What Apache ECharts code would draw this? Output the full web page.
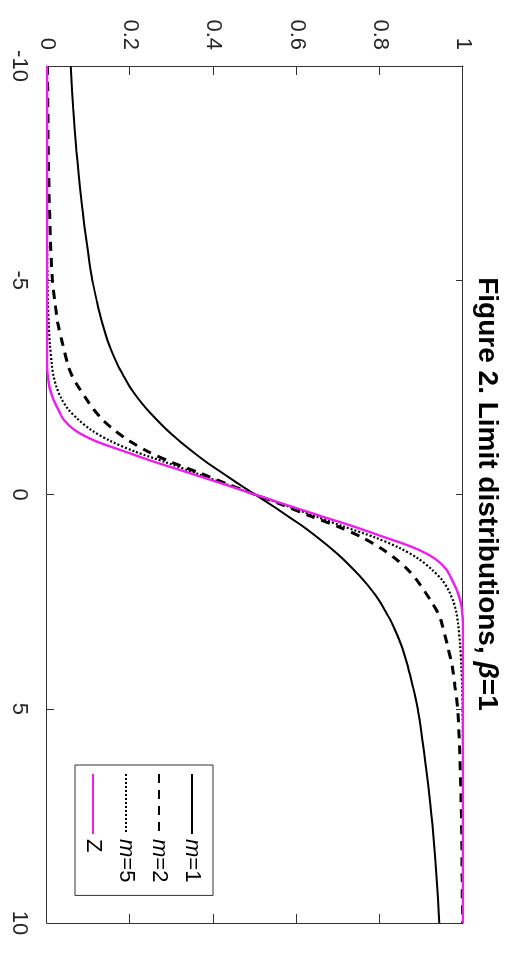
<!DOCTYPE html>
<html>
<head>
<meta charset="utf-8">
<script src="https://cdn.jsdelivr.net/npm/echarts@6/dist/echarts.min.js"></script>
<style>
  html, body { margin: 0; padding: 0; background: #fff; overflow: hidden; width: 505px; height: 957px; }
  #wrap { position: absolute; left: 0; top: 0; width: 957px; height: 505px;
          transform-origin: 0 0; transform: translate(505px, 0) rotate(90deg); background: #fff; }
</style>
</head>
<body>
<div id="wrap"></div>
<script>
// ---- data ----
const xValues = [-10,-9,-8,-7,-6,-5,-4.5,-4,-3.5,-3,-2.75,-2.5,-2.25,-2,-1.75,-1.5,-1.25,-1,-0.75,-0.5,-0.25,
                 0,0.25,0.5,0.75,1,1.25,1.5,1.75,2,2.25,2.5,2.75,3,3.5,4,4.5,5,6,7,8,9,10];
const m1Values = [0.057,0.063,0.071,0.081,0.094,0.109,0.120,0.133,0.149,0.171,0.185,0.200,0.218,0.239,0.263,0.289,0.318,0.350,0.384,0.422,0.460,
                  0.500,0.540,0.578,0.616,0.650,0.682,0.711,0.737,0.761,0.782,0.800,0.815,0.829,0.851,0.867,0.880,0.891,0.906,0.919,0.929,0.937,0.943];
const m2Values = [0.001,0.002,0.003,0.005,0.008,0.013,0.019,0.026,0.038,0.051,0.061,0.076,0.093,0.111,0.133,0.162,0.198,0.243,0.300,0.368,0.432,
                  0.500,0.568,0.632,0.700,0.757,0.802,0.838,0.867,0.889,0.907,0.924,0.939,0.949,0.962,0.974,0.981,0.987,0.992,0.995,0.997,0.998,0.999];
const m5Values = [0,0,0,0,0,0.001,0.002,0.004,0.007,0.012,0.016,0.023,0.034,0.050,0.075,0.107,0.152,0.212,0.286,0.357,0.428,
                  0.500,0.572,0.643,0.714,0.788,0.848,0.893,0.925,0.950,0.966,0.977,0.984,0.988,0.993,0.996,0.998,0.999,1,1,1,1,1];
const zValues  = [0,0,0,0,0,0,0,0,0,0,0.002,0.006,0.014,0.026,0.040,0.067,0.116,0.188,0.262,0.343,0.422,
                  0.500,0.578,0.657,0.738,0.812,0.884,0.933,0.960,0.974,0.986,0.994,0.998,1,1,1,1,1,1,1,1,1,1];
const seriesNames = ['m=1', 'm=2', 'm=5', 'Z'];
const xTicks = [-10, -5, 0, 5, 10];
const yTicks = ['0', '0.2', '0.4', '0.6', '0.8', '1'];

// ---- chart ----
const FONT = "'Liberation Sans', Arial, Helvetica, sans-serif";
const AX = '#333333';
const pairs = vals => xValues.map((x, i) => [x, vals[i]]);
const xMin = xTicks[0], xMax = xTicks[xTicks.length - 1], xInt = xTicks[1] - xTicks[0];
const yMin = parseFloat(yTicks[0]), yMax = parseFloat(yTicks[yTicks.length - 1]);
const yInt = parseFloat(yTicks[1]) - parseFloat(yTicks[0]);

const chart = echarts.init(document.getElementById('wrap'), null, { width: 957, height: 505, renderer: 'canvas' });

function xAxisDef(pos, labels) {
  return {
    type: 'value', position: pos, min: xMin, max: xMax, interval: xInt,
    axisLine: { show: true, onZero: false, lineStyle: { color: AX, width: 1 } },
    axisTick: { show: true, inside: true, length: 7, lineStyle: { color: AX, width: 1 } },
    axisLabel: { show: labels, margin: 17, fontSize: 22, fontFamily: FONT, color: '#262626',
                 showMinLabel: true, showMaxLabel: true },
    splitLine: { show: false }
  };
}
function yAxisDef(pos, labels) {
  return {
    type: 'value', position: pos, min: yMin, max: yMax, interval: yInt,
    axisLine: { show: true, onZero: false, lineStyle: { color: AX, width: 1 } },
    axisTick: { show: true, inside: true, length: 9, lineStyle: { color: AX, width: 1 } },
    axisLabel: { show: labels, margin: 16, fontSize: 22, fontFamily: FONT, color: '#262626',
                 showMinLabel: true, showMaxLabel: true,
                 formatter: v => yTicks[Math.round((v - yMin) / yInt)] },
    splitLine: { show: false }
  };
}

const styles = [
  { color: '#000000', width: 2, type: 'solid' },
  { color: '#000000', width: 3, type: [9, 7] },
  { color: '#000000', width: 2.2, type: [2, 2] },
  { color: '#ee1fee', width: 2.4, type: 'solid' }
];
const allValues = [m1Values, m2Values, m5Values, zValues];

chart.setOption({
  animation: false,
  backgroundColor: '#ffffff',
  title: {
    text: '{b|Figure 2. Limit distributions, }{g|β}{b|=1}',
    left: 494, top: 4, textAlign: 'center', padding: 0,
    textStyle: {
      fontFamily: FONT,
      rich: {
        b: { fontSize: 28, fontWeight: 'bold', fontFamily: FONT, color: '#000' },
        g: { fontSize: 28, fontStyle: 'italic', fontFamily: FONT, color: '#000' }
      }
    }
  },
  grid: { left: 66, right: 34, top: 42, bottom: 47, containLabel: false },
  xAxis: [xAxisDef('bottom', true), xAxisDef('top', false)],
  yAxis: [yAxisDef('left', true), yAxisDef('right', false)],
  legend: {
    show: true,
    data: seriesNames,
    orient: 'vertical',
    left: 765, top: 292,
    padding: [10, 13, 7, 8],
    itemWidth: 60, itemHeight: 20, itemGap: 11,
    borderColor: '#333', borderWidth: 1, backgroundColor: '#fff',
    itemStyle: { opacity: 0 },
    formatter: name => name.indexOf('m=') === 0 ? '{i|m}{n|' + name.slice(1) + '}' : '{n|' + name + '}',
    textStyle: {
      fontFamily: FONT, fontSize: 22, lineHeight: 20, color: '#000',
      rich: {
        i: { fontSize: 22, lineHeight: 20, fontStyle: 'italic', fontFamily: FONT, color: '#000' },
        n: { fontSize: 22, lineHeight: 20, fontFamily: FONT, color: '#000' }
      }
    }
  },
  series: seriesNames.map((name, k) => ({
    name: name, type: 'line', xAxisIndex: 0, yAxisIndex: 0,
    data: pairs(allValues[k]),
    showSymbol: false, symbol: 'none', smooth: 0.3,
    lineStyle: { color: styles[k].color, width: styles[k].width, type: styles[k].type },
    itemStyle: { color: styles[k].color, opacity: 0 },
    z: 2 + k
  }))
});
</script>
</body>
</html>
